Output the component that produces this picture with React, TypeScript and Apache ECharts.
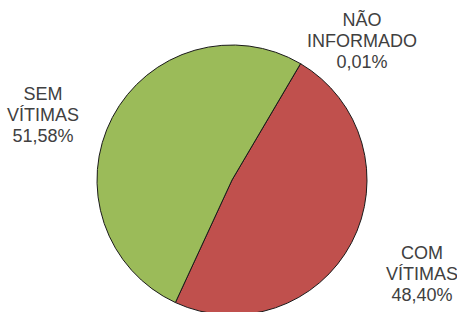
import React, { useEffect, useRef } from "react";
import * as echarts from "echarts";

const categories = ["NÃO INFORMADO", "COM VÍTIMAS", "SEM VÍTIMAS"];
const values = [0.01, 48.4, 51.58];
const colors = ["#C0504D", "#C0504D", "#9BBB59"];
const labelPositions = [
  { x: 362, y: 41 },
  { x: 422, y: 274 },
  { x: 43, y: 115 },
];

export default function App() {
  const ref = useRef<HTMLDivElement>(null);
  useEffect(() => {
    document.body.style.margin = "0";
    const chart = echarts.init(ref.current!, null, { renderer: "svg" });
    chart.setOption({
      animation: false,
      backgroundColor: "#ffffff",
      series: [
        {
          type: "pie",
          center: [232, 180],
          radius: 135,
          startAngle: 59.5,
          clockwise: true,
          avoidLabelOverlap: false,
          data: categories.map((name, i) => ({
            name,
            value: values[i],
            itemStyle: { color: colors[i] },
          })),
          itemStyle: { borderColor: "#1a1a1a", borderWidth: 1 },
          label: {
            show: true,
            position: "outside",
            color: "#404040",
            fontFamily: "'Liberation Sans', Arial, sans-serif",
            fontSize: 18,
            lineHeight: 21,
            align: "center",
            formatter: (p: any) =>
              p.name.replace(" ", "\n") +
              "\n" +
              values[p.dataIndex].toFixed(2).replace(".", ",") +
              "%",
          },
          labelLine: { show: false },
          labelLayout: (params: any) => {
            const pos = labelPositions[params.dataIndex];
            return { x: pos.x, y: pos.y, align: "center", verticalAlign: "middle" };
          },
          emphasis: { disabled: true },
        },
      ],
    });
    return () => chart.dispose();
  }, []);
  return <div ref={ref} style={{ width: 457, height: 312 }} />;
}
